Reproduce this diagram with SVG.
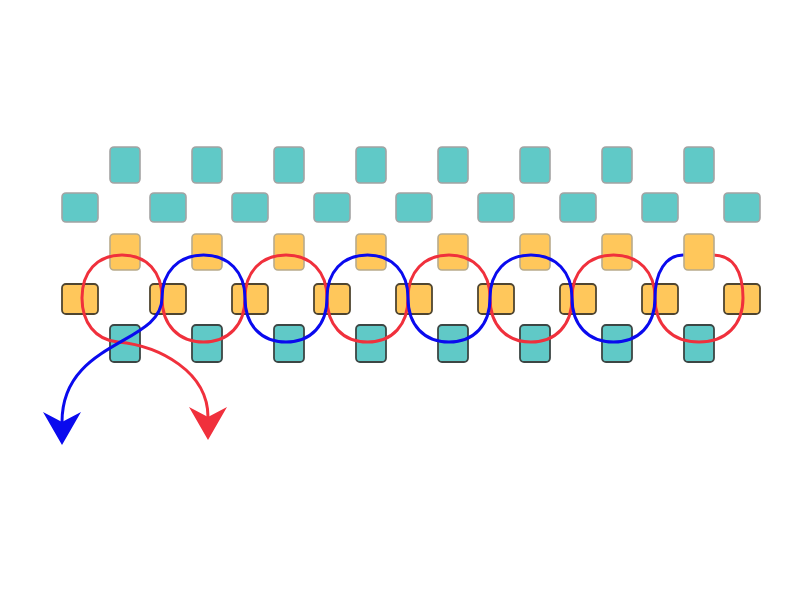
<svg xmlns="http://www.w3.org/2000/svg" width="800" height="600" viewBox="0 0 800 600">
<style>
.teal{fill:#60c9c7}
.orange{fill:#ffc75b}
.light{stroke:#a3a3a3;stroke-width:1.6}
.lighto{stroke:#b8ab8c;stroke-width:1.6}
.dark{stroke:#3c4644;stroke-width:1.8}
.darko{stroke:#4f4530;stroke-width:1.8}
.thread{fill:none;stroke-width:3;stroke-linecap:round;stroke-linejoin:round}
.red{stroke:#f0303c}
.blue{stroke:#0a0aee}
</style>
<defs>
<marker id="arrowRed" markerUnits="userSpaceOnUse" viewBox="0 0 34 38" markerWidth="34" markerHeight="38" refX="10" refY="19" orient="auto">
<path d="M33,19 L0,0 L10,19 L0,38 Z" fill="#f0303c"/>
</marker>
<marker id="arrowBlue" markerUnits="userSpaceOnUse" viewBox="0 0 34 38" markerWidth="34" markerHeight="38" refX="10" refY="19" orient="auto">
<path d="M33,19 L0,0 L10,19 L0,38 Z" fill="#0a0aee"/>
</marker>
</defs>
<rect width="800" height="600" fill="#ffffff"/>
<g id="row1">
<rect id="r1-1" class="teal light" x="110" y="147" width="30" height="36" rx="4"/>
<rect id="r1-2" class="teal light" x="192" y="147" width="30" height="36" rx="4"/>
<rect id="r1-3" class="teal light" x="274" y="147" width="30" height="36" rx="4"/>
<rect id="r1-4" class="teal light" x="356" y="147" width="30" height="36" rx="4"/>
<rect id="r1-5" class="teal light" x="438" y="147" width="30" height="36" rx="4"/>
<rect id="r1-6" class="teal light" x="520" y="147" width="30" height="36" rx="4"/>
<rect id="r1-7" class="teal light" x="602" y="147" width="30" height="36" rx="4"/>
<rect id="r1-8" class="teal light" x="684" y="147" width="30" height="36" rx="4"/>
</g>
<g id="row2">
<rect id="r2-1" class="teal light" x="62" y="193" width="36" height="29" rx="4"/>
<rect id="r2-2" class="teal light" x="150" y="193" width="36" height="29" rx="4"/>
<rect id="r2-3" class="teal light" x="232" y="193" width="36" height="29" rx="4"/>
<rect id="r2-4" class="teal light" x="314" y="193" width="36" height="29" rx="4"/>
<rect id="r2-5" class="teal light" x="396" y="193" width="36" height="29" rx="4"/>
<rect id="r2-6" class="teal light" x="478" y="193" width="36" height="29" rx="4"/>
<rect id="r2-7" class="teal light" x="560" y="193" width="36" height="29" rx="4"/>
<rect id="r2-8" class="teal light" x="642" y="193" width="36" height="29" rx="4"/>
<rect id="r2-9" class="teal light" x="724" y="193" width="36" height="29" rx="4"/>
</g>
<g id="row3">
<rect id="r3-1" class="orange lighto" x="110" y="234" width="30" height="36" rx="4"/>
<rect id="r3-2" class="orange lighto" x="192" y="234" width="30" height="36" rx="4"/>
<rect id="r3-3" class="orange lighto" x="274" y="234" width="30" height="36" rx="4"/>
<rect id="r3-4" class="orange lighto" x="356" y="234" width="30" height="36" rx="4"/>
<rect id="r3-5" class="orange lighto" x="438" y="234" width="30" height="36" rx="4"/>
<rect id="r3-6" class="orange lighto" x="520" y="234" width="30" height="36" rx="4"/>
<rect id="r3-7" class="orange lighto" x="602" y="234" width="30" height="36" rx="4"/>
</g>
<g id="row4">
<rect id="r4-1" class="orange darko" x="62" y="284" width="36" height="30" rx="4"/>
<rect id="r4-2" class="orange darko" x="150" y="284" width="36" height="30" rx="4"/>
<rect id="r4-3" class="orange darko" x="232" y="284" width="36" height="30" rx="4"/>
<rect id="r4-4" class="orange darko" x="314" y="284" width="36" height="30" rx="4"/>
<rect id="r4-5" class="orange darko" x="396" y="284" width="36" height="30" rx="4"/>
<rect id="r4-6" class="orange darko" x="478" y="284" width="36" height="30" rx="4"/>
<rect id="r4-7" class="orange darko" x="560" y="284" width="36" height="30" rx="4"/>
<rect id="r4-8" class="orange darko" x="642" y="284" width="36" height="30" rx="4"/>
<rect id="r4-9" class="orange darko" x="724" y="284" width="36" height="30" rx="4"/>
</g>
<g id="row5">
<rect id="r5-1" class="teal dark" x="110" y="325" width="30" height="37" rx="4"/>
<rect id="r5-2" class="teal dark" x="192" y="325" width="30" height="37" rx="4"/>
<rect id="r5-3" class="teal dark" x="274" y="325" width="30" height="37" rx="4"/>
<rect id="r5-4" class="teal dark" x="356" y="325" width="30" height="37" rx="4"/>
<rect id="r5-5" class="teal dark" x="438" y="325" width="30" height="37" rx="4"/>
<rect id="r5-6" class="teal dark" x="520" y="325" width="30" height="37" rx="4"/>
<rect id="r5-7" class="teal dark" x="602" y="325" width="30" height="37" rx="4"/>
<rect id="r5-8" class="teal dark" x="684" y="325" width="30" height="37" rx="4"/>
</g>
<g id="connectors">
<path id="thread-red" class="thread red" marker-end="url(#arrowRed)" d="M713,255 C733,255 743,271 743,298 C743,325 726,342 699,342 C672,342 655,325 655,298 C655,272 639,255 613.5,255 C588,255 572,272 572,298 C572,325 556,342 531,342 C506,342 490,325 490,298 C490,272 474,255 449,255 C424,255 408,272 408,298 C408,325 392.5,342 367.5,342 C342.5,342 327,325 327,298 C327,272 311,255 286,255 C261,255 245,272 245,298 C245,325 228.5,342 203.5,342 C178.5,342 162,325 162,298 C162,272 147,255 122,255 C97,255 82,272 82,298 C82,322 95,340 118,342 C160,346 208,372 208,417"/>
<path id="thread-blue" class="thread blue" marker-end="url(#arrowBlue)" d="M683,255 C666,255 655,272 655,298 C655,325 639,342 613.5,342 C588,342 572,325 572,298 C572,272 556,255 531,255 C506,255 490,272 490,298 C490,325 474,342 449,342 C424,342 408,325 408,298 C408,272 392.5,255 367.5,255 C342.5,255 327,272 327,298 C327,325 311,342 286,342 C261,342 245,325 245,298 C245,272 228.5,255 203.5,255 C178.5,255 162,272 162,298 C162,345 62,340 62,422"/>
</g>
<g id="row3-end">
<rect id="r3-8" class="orange lighto" x="684" y="234" width="30" height="36" rx="4"/>
</g>
</svg>
